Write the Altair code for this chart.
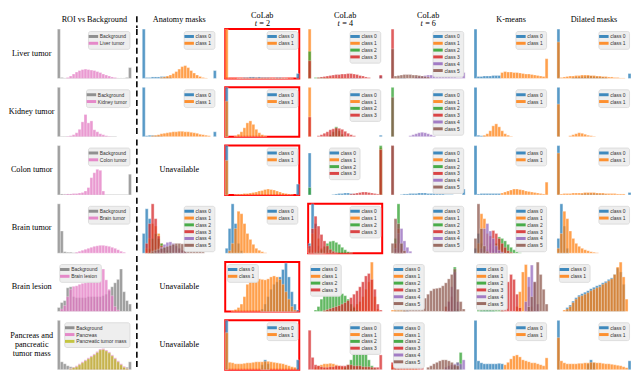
import altair as alt
import pandas as pd

W, H = 75, 50          # panel size
LW = 44                # row-label column width
HEAD = 16              # header row height
SERIF = "Liberation Serif"
SANS = "Liberation Sans"
FS = 8.3               # serif text size

CLASS_COLORS = ["#1f77b4", "#ff7f0e", "#2ca02c", "#d62728", "#9467bd", "#8c564b"]
ROI_COLORS = ["#7f7f7f", "#e377c2", "#bcbd22"]

COLUMN_TITLES = ["ROI vs Background", "Anatomy masks", "CoLab", "CoLab", "CoLab", "K-means", "Dilated masks"]
COLAB_STEPS = [None, None, "2", "4", "6", None, None]
ROW_LABELS = ["Liver tumor", "Kidney tumor", "Colon tumor", "Brain tumor", "Brain lesion",
              "Pancreas and\npancreatic\ntumor mass"]
UNAVAILABLE = "Unavailable"

# Histogram heights (percent of panel height); each series: list of [first_bin, [heights...]]
# ---------------- Liver tumor ----------------
L_ROI = {"Background": [[0, [100, 2, 1, 1, 1, 1, 1, 1, 1, 1, 1, 1, 1, 1, 1, 1, 1, 1, 1, 1, 1, 1, 1, 2, 22]]],
         "Liver tumor": [[3, [2, 5, 9, 13, 16, 18, 19, 18, 17, 16, 14, 12, 9, 7, 5, 3, 2]]]}
L_ANAT = {"class 0": [[0, [100, 2, 2, 3, 3, 3, 4, 4, 3, 2]], [24, [16]]],
          "class 1": [[6, [2, 3, 5, 7, 10, 14, 19, 24, 26, 22, 16, 11, 7, 4, 2, 1]]]}
L_T2 = {"class 0": [[4, [1, 1, 2, 2, 3, 3, 2, 3, 2, 2, 2, 1, 1, 2, 2, 1, 1]], [24, [10]]],
        "class 1": [[0, [100, 1, 1, 1, 1, 1, 1, 1, 1, 1, 1, 1, 1, 1, 1, 1, 1, 1, 1, 1, 1, 1, 1]]]}
L_T4 = {"class 0": [[10, [1, 1, 1, 1, 1, 1, 1, 1]], [24, [5]]],
        "class 1": [[0, [100]], [5, [1, 2, 2, 2, 2, 2, 2, 1, 1]]],
        "class 2": [[0, [55]], [2, [2, 2, 2, 1, 1]]],
        "class 3": [[0, [36]], [3, [2, 3, 4, 5, 6, 7, 8, 8, 9, 9, 10, 10, 9, 8, 6, 5, 3, 2]], [24, [7]]]}
L_T6 = {"class 0": [[2, [1, 1, 1]]],
        "class 1": [[1, [1, 1]]],
        "class 2": [],
        "class 3": [[0, [100]]],
        "class 4": [[8, [3, 4, 5, 6, 7, 7, 7, 6, 6, 5, 4, 4, 3, 3, 2, 2]], [24, [12]]],
        "class 5": [[0, [60, 5, 6, 7, 8, 8, 8, 7, 7, 6, 5, 4, 3]]]}
L_KM = {"class 0": [[0, [100, 4, 4, 5, 5, 5, 6, 6, 6]]],
        "class 1": [[9, [12, 14, 13, 13, 12, 12, 11, 10, 9, 9, 8, 7, 6, 5, 4, 40]]]}
L_DIL = {"class 0": [[0, [100]], [5, [2, 3, 3, 4, 4, 5, 5, 4, 4, 3, 3, 2]], [24, [10]]],
         "class 1": [[0, [74, 2, 3, 4, 5, 5, 6, 6, 7, 7, 7, 6, 6, 5, 5, 4, 4, 3, 3, 2, 2, 1, 1]]]}

# ---------------- Kidney tumor ----------------
K_ROI = {"Background": [[0, [100, 1, 1, 1, 1, 1, 1, 1, 1, 1, 1, 1, 1, 1, 1, 1, 1, 1, 1, 1]]],
         "Kidney tumor": [[3, [1, 2, 4, 8, 15, 30, 45, 28, 32, 14, 10, 6, 4, 2, 1]]]}
K_ANAT = {"class 0": [[0, [100, 2, 3, 3, 2, 2, 1]], [24, [10]]],
          "class 1": [[3, [2, 3, 4, 6, 7, 8, 9, 10, 10, 11, 11, 10, 10, 9, 8, 7, 5, 4, 3, 2]]]}
K_T2 = {"class 0": [[0, [100]]],
        "class 1": [[0, [72]], [3, [2, 5, 10, 18, 28, 32, 25, 15, 8, 4, 2]]]}
K_T4 = {"class 0": [[24, [3]]],
        "class 1": [[0, [100]]],
        "class 2": [[7, [4, 10, 20, 12, 5]]],
        "class 3": [[0, [40]], [3, [2, 4, 7, 10, 14, 16, 18, 17, 15, 11, 7, 4, 2]]]}
K_T6 = {"class 0": [], "class 1": [],
        "class 2": [[0, [100]]],
        "class 3": [],
        "class 4": [[6, [2, 4, 6, 8, 9, 8, 6, 4, 2]]],
        "class 5": [[0, [80]]]}
K_KM = {"class 0": [[0, [100, 3, 2, 1]]],
        "class 1": [[3, [3, 6, 12, 22, 26, 20, 12, 6, 3, 1]]]}
K_DIL = {"class 0": [[0, [100]]],
         "class 1": [[0, [66]], [4, [2, 4, 6, 8, 7, 5, 3, 2, 1]]]}

# ---------------- Colon tumor ----------------
C_ROI = {"Background": [[0, [100, 2, 2, 2, 2, 1, 1, 1, 1, 1, 1, 1, 1, 1, 1, 1, 1, 1, 1, 1, 1, 1, 1, 1, 42]]],
         "Colon tumor": [[2, [1, 2, 2, 3, 3, 4, 5, 8, 15, 35, 45, 52, 50, 8]]]}
C_T2 = {"class 0": [[0, [100]], [24, [22]]],
        "class 1": [[0, [70]], [3, [1, 2, 2, 3, 3, 4, 5, 6, 8, 9, 11, 12, 11, 10, 8, 6, 4, 3, 2, 1]]]}
C_T4 = {"class 0": [[0, [85]], [8, [1, 2, 3, 3, 4, 4, 3, 2, 1]]],
        "class 1": [[24, [96]]],
        "class 2": [[0, [15]], [24, [100]]],
        "class 3": [[14, [2, 3, 4, 5, 6, 6, 5, 4, 3, 2, 92]]]}
C_T6 = {"class 0": [[3, [1, 2, 2, 3, 3, 3, 4, 4, 4, 3, 3, 3, 2, 2, 2, 1, 1, 1]], [24, [12]]],
        "class 1": [], "class 2": [],
        "class 3": [[0, [100]]],
        "class 4": [],
        "class 5": [[0, [100]]]}
C_KM = {"class 0": [[0, [100, 2, 3, 3, 3, 3, 3, 3, 3]]],
        "class 1": [[9, [4, 6, 8, 10, 12, 12, 11, 10, 8, 7, 6, 5, 4, 3, 2, 26]]]}
C_DIL = {"class 0": [[0, [100]], [8, [2, 3, 3, 3, 3, 3, 2, 2, 1]], [24, [5]]],
         "class 1": [[0, [85, 2, 3, 3, 3, 4, 4, 4, 4, 5, 5, 5, 5, 4, 4, 4, 3, 3, 3, 3, 2, 2, 2]]]}

# ---------------- Brain tumor ----------------
B_ROI = {"Background": [[0, [100, 45, 3, 2, 2, 1, 1]]],
         "Brain tumor": [[6, [2, 4, 6, 8, 10, 12, 14, 15, 16, 16, 15, 14, 12, 10, 7, 4, 2]]]}
B_ANAT = {"class 0": [[0, [40, 90, 70, 30, 10, 3]]],
          "class 1": [[1, [10, 30, 60, 55, 40, 20, 10, 5]]],
          "class 2": [[2, [10, 30, 40, 30, 20, 12, 6, 3]]],
          "class 3": [[1, [20, 60, 100, 70, 35, 15, 5]]],
          "class 4": [[4, [3, 6, 12, 18, 22, 23, 20, 15, 10, 6, 3]]],
          "class 5": [[3, [4, 6, 8, 10, 12, 14, 16, 18, 20, 20, 19, 18, 16, 14, 11, 8, 5, 3]]]}
B_T2 = {"class 0": [[0, [10, 50, 100, 60, 20, 5]]],
        "class 1": [[1, [5, 20, 50, 85, 80, 60, 40, 28, 18, 10, 6, 3, 1]]]}
B_T4 = {"class 0": [[0, [20, 100, 60, 15, 3]]],
        "class 1": [[0, [10, 40, 50, 30, 10, 3]]],
        "class 2": [[2, [2, 4, 8, 14, 20, 24, 25, 22, 18, 12, 7, 3, 1]]],
        "class 3": [[0, [15, 50, 75, 55, 38, 25, 15, 8, 4, 2]]]}
B_T6 = {"class 0": [[1, [10, 20, 10]]],
        "class 1": [[1, [15, 30, 15, 5]]],
        "class 2": [[1, [30, 100, 20]]],
        "class 3": [[1, [20, 50, 10]]],
        "class 4": [[1, [10, 40, 50, 25, 12, 4]]],
        "class 5": [[0, [20, 70, 60, 20, 5]]]}
B_KM = {"class 0": [[0, [10, 40, 20, 5]]],
        "class 1": [[1, [20, 80, 70, 40, 20, 8, 3]]],
        "class 2": [[6, [5, 20, 33, 30, 25, 18, 12, 7, 3, 1]]],
        "class 3": [[4, [8, 35, 46, 40, 30, 20, 12, 5, 2]]],
        "class 4": [[2, [10, 50, 60, 45, 30, 15, 6, 2]]],
        "class 5": [[0, [30, 100, 50, 15, 4]]]}
B_DIL = {"class 0": [[0, [30, 100, 55, 10]]],
         "class 1": [[0, [10, 40, 85, 70, 45, 30, 20, 14, 10, 7, 5, 3, 2, 1]]]}

# ---------------- Brain lesion ----------------
BL_ROI = {"Background": [[0, [8, 18, 22, 48, 50, 30, 28, 28, 28, 28, 30, 30, 30, 30, 30, 32, 35, 42, 50, 58, 65, 86, 40, 22, 15]]],
          "Brain lesion": [[1, [5, 12, 30, 45, 51, 52, 55, 57, 58, 62, 74, 72, 78, 84, 86, 64, 45, 32, 10, 3]]]}
BL_T2 = {"class 0": [[12, [5, 15, 30, 45, 55, 60, 70, 85, 98, 70, 40, 15, 3]]],
         "class 1": [[2, [2, 4, 8, 15, 30, 55, 70, 75, 68, 66, 65, 64, 66, 70, 72, 70, 65, 55, 40, 25, 10, 3]]]}
BL_T4 = {"class 0": [],
         "class 1": [[14, [5, 10, 15, 20, 30, 45, 60, 100, 30, 5]]],
         "class 2": [[2, [3, 10, 25, 38, 42, 46, 44, 40, 38, 36, 32, 25, 15, 8, 3]]],
         "class 3": [[5, [2, 4, 6, 8, 10, 12, 15, 18, 22, 28, 35, 42, 50, 60, 72, 77, 65, 45, 15, 3]]]}
BL_T6 = {"class 0": [[1, [2, 3, 4, 3, 2]]],
         "class 1": [[0, [3, 5, 6, 5, 4]]],
         "class 2": [[20, [5, 90, 5]]],
         "class 3": [[18, [10, 20, 30]]],
         "class 4": [[19, [20, 50, 80, 20]]],
         "class 5": [[4, [3, 5, 8, 10, 14, 18, 22, 27, 35, 42, 46, 47, 48, 52, 58, 66, 75, 86, 45, 20, 5]]]}
BL_KM = {"class 0": [[2, [2, 3, 4, 3, 2]]],
         "class 1": [[14, [10, 40, 80, 95, 50, 10]]],
         "class 2": [[1, [3, 6, 10, 12, 14, 12, 8, 4, 2]]],
         "class 3": [[9, [10, 35, 60, 75, 65, 35, 8]]],
         "class 4": [[17, [20, 70, 94, 60, 15]]],
         "class 5": [[18, [10, 30, 60, 100, 75, 45, 15]]]}
BL_DIL = {"class 0": [[3, [8, 13, 21, 28, 33, 36, 39, 42, 46, 49, 52, 54, 58, 61, 65, 68, 75, 88, 80, 55]]],
          "class 1": [[2, [3, 5, 10, 18, 25, 30, 32, 35, 38, 42, 45, 48, 50, 55, 58, 62, 66, 75, 90, 100, 70, 25]]]}

# ---------------- Pancreas and pancreatic tumor mass ----------------
P_ROI = {"Background": [[0, [100, 16, 12, 8, 6, 5, 4, 4, 4, 3, 3, 3, 3, 3, 3, 3, 3, 3, 3, 3, 3, 3, 3, 5, 16]]],
         "Pancreas": [[4, [3, 5, 8, 12, 16, 20, 24, 28, 32, 37, 42, 43, 40, 36, 30, 24, 18, 12, 7, 3]]],
         "Pancreatic tumor mass": [[4, [2, 4, 6, 10, 14, 18, 22, 26, 30, 35, 40, 41, 38, 34, 28, 22, 16, 10, 5, 2]]]}
P_T2 = {"class 0": [[0, [100]], [12, [10, 20, 12]], [24, [20]]],
        "class 1": [[0, [75, 15, 14, 12, 12, 12, 13, 14, 14, 15, 16, 16, 16, 17, 17, 16, 15, 14, 13, 12, 10, 8, 6, 5]]]}
P_T4 = {"class 0": [],
        "class 1": [[2, [5, 8, 10, 12, 12, 13, 12, 10, 8, 6, 4, 3, 2]]],
        "class 2": [[12, [5, 10, 20, 35, 50, 60, 55, 40, 20, 8, 3]]],
        "class 3": [[0, [80, 25, 10, 8, 6, 5, 5, 6, 6, 8, 8, 8, 8, 10, 10, 8, 8, 8, 6, 6, 6, 5, 5, 5, 30]]]}
P_T6 = {"class 0": [[0, [3, 3, 2]]],
        "class 1": [[0, [10, 8, 8, 8, 7, 6, 5, 4, 3]]],
        "class 2": [[20, [5, 8, 15, 35]]],
        "class 3": [[0, [15, 12, 10, 10, 9, 8, 8, 7, 6, 5, 4]]],
        "class 4": [[18, [5, 8, 10, 12, 15, 12, 20]]],
        "class 5": [[12, [5, 8, 12, 15, 18, 20, 20, 18, 15, 10, 8]]]}
P_KM = {"class 0": [[0, [100, 18, 14, 12, 12, 12, 12, 12, 13, 12]]],
        "class 1": [[10, [10, 15, 22, 28, 30, 26, 20, 18, 16, 14, 14, 12, 10, 8, 24]]]}
P_DIL = {"class 0": [[0, [100]], [10, [12, 20, 14]], [24, [18]]],
         "class 1": [[0, [65, 18, 14, 12, 12, 12, 12, 13, 13, 14, 14, 15, 15, 14, 14, 13, 12, 12, 11, 10, 9, 8, 6, 4]]]}

GRID = [
    [L_ROI, L_ANAT, L_T2, L_T4, L_T6, L_KM, L_DIL],
    [K_ROI, K_ANAT, K_T2, K_T4, K_T6, K_KM, K_DIL],
    [C_ROI, None, C_T2, C_T4, C_T6, C_KM, C_DIL],
    [B_ROI, B_ANAT, B_T2, B_T4, B_T6, B_KM, B_DIL],
    [BL_ROI, None, BL_T2, BL_T4, BL_T6, BL_KM, BL_DIL],
    [P_ROI, None, P_T2, P_T4, P_T6, P_KM, P_DIL],
]

RED_BOXES = {(0, 2), (1, 2), (2, 2), (3, 3), (4, 2), (5, 2)}
LEFT_LEGENDS = {(4, 0), (4, 2), (4, 3), (4, 4), (4, 5), (4, 6), (5, 4)}
LEGEND_XY = {(2, 3): (21, 2)}   # legends placed away from a corner

ONE = pd.DataFrame({"k": [0]})
LINE_H = 9.5


def hist_panel(series, colors, r, c):
    names = list(series.keys())
    rows = []
    for name in names:
        for start, vals in series[name]:
            for i, v in enumerate(vals):
                if v > 0:
                    rows.append({"s": name, "b": start + i, "b2": start + i + 1, "v": v, "z": 0})
    df = pd.DataFrame(rows)
    common = dict(
        title=None, fillColor="#eeeeee", strokeColor="#dcdcdc", cornerRadius=2, padding=2.5,
        labelFont=SANS, labelFontSize=5, labelColor="#333333", labelOffset=3.5, labelLimit=120,
        symbolType="M-1.6,-0.5H1.6V0.5H-1.6Z", symbolSize=36, symbolStrokeWidth=0,
        symbolOpacity=0.85, rowPadding=0.9,
    )
    if (r, c) in LEGEND_XY:
        lx, ly = LEGEND_XY[(r, c)]
        legend = alt.Legend(orient="none", legendX=lx, legendY=ly, **common)
    else:
        orient = "top-left" if (r, c) in LEFT_LEGENDS else "top-right"
        legend = alt.Legend(orient=orient, offset=2, **common)
    ch = alt.Chart(df).mark_bar(opacity=0.74, stroke="white", strokeWidth=0.35).encode(
        x=alt.X("b:Q", scale=alt.Scale(domain=[0, 25], nice=False, zero=False), axis=None),
        x2="b2:Q",
        y=alt.Y("v:Q", scale=alt.Scale(domain=[0, 100], nice=False), axis=None, stack=None),
        y2="z:Q",
        color=alt.Color("s:N", scale=alt.Scale(domain=names, range=colors[:len(names)]), legend=legend),
    ).properties(width=W, height=H)
    if (r, c) in RED_BOXES:
        ch = ch.properties(view=alt.ViewBackground(stroke="#ff0000", strokeWidth=2))
    return ch


def text_cell(txt, width, height, size, x, y, style="normal", align="center"):
    return alt.Chart(ONE).mark_text(
        font=SERIF, fontSize=size, fontStyle=style, lineBreak="\n", lineHeight=LINE_H, align=align,
        baseline="middle", color="black",
    ).encode(text=alt.value(txt), x=alt.value(x), y=alt.value(y)).properties(width=width, height=height)


def dash_cell(height, y0, y1):
    return alt.Chart(ONE).mark_rule(strokeDash=[6, 3.5], strokeWidth=1.6, color="black").encode(
        x=alt.value(0.5), y=alt.value(y0), y2=alt.value(y1)
    ).properties(width=1, height=height)


def header_cell(c):
    title = COLUMN_TITLES[c]
    step = COLAB_STEPS[c]
    if step is None:
        return text_cell(title, W, HEAD, FS, W / 2, 7.6)
    return alt.layer(
        text_cell(title, W, HEAD, FS, W / 2, 3.6),
        text_cell("t", W, HEAD, FS, W / 2 - 7.7, 11.8, style="italic", align="left"),
        text_cell("= " + step, W, HEAD, FS, W / 2 - 3.0, 11.8, align="left"),
    ).properties(width=W, height=HEAD)


def assemble_row(label_cell, roi, dash, others):
    right = alt.hconcat(*others, spacing=9, bounds="flush").resolve_scale(color="independent")
    return alt.hconcat(label_cell, roi, dash, right, spacing=5, bounds="flush").resolve_scale(color="independent")


header = assemble_row(
    text_cell("", LW, HEAD, FS, LW / 2, 5),
    header_cell(0),
    dash_cell(HEAD, 4, HEAD),
    [header_cell(c) for c in range(1, 7)],
)

rows = []
for r, row in enumerate(GRID):
    cells = []
    for c, series in enumerate(row):
        if series is None:
            cells.append(text_cell(UNAVAILABLE, W, H, FS, W / 2, H / 2))
        else:
            cells.append(hist_panel(series, ROI_COLORS if c == 0 else CLASS_COLORS, r, c))
    n_lines = ROW_LABELS[r].count("\n") + 1
    rows.append(assemble_row(
        text_cell(ROW_LABELS[r], LW, H, FS, 23, H / 2 - (n_lines - 1) * LINE_H / 2),
        cells[0],
        dash_cell(H, 0 if r == 0 else -6.2, H),
        cells[1:],
    ))

body = alt.vconcat(*rows, spacing=0).resolve_scale(color="independent")
chart = alt.vconcat(header, body, spacing=-6).resolve_scale(
    color="independent"
).properties(padding=0).configure_view(stroke=None)

chart.save("out.html", embed_options={"renderer": "svg", "actions": False})
